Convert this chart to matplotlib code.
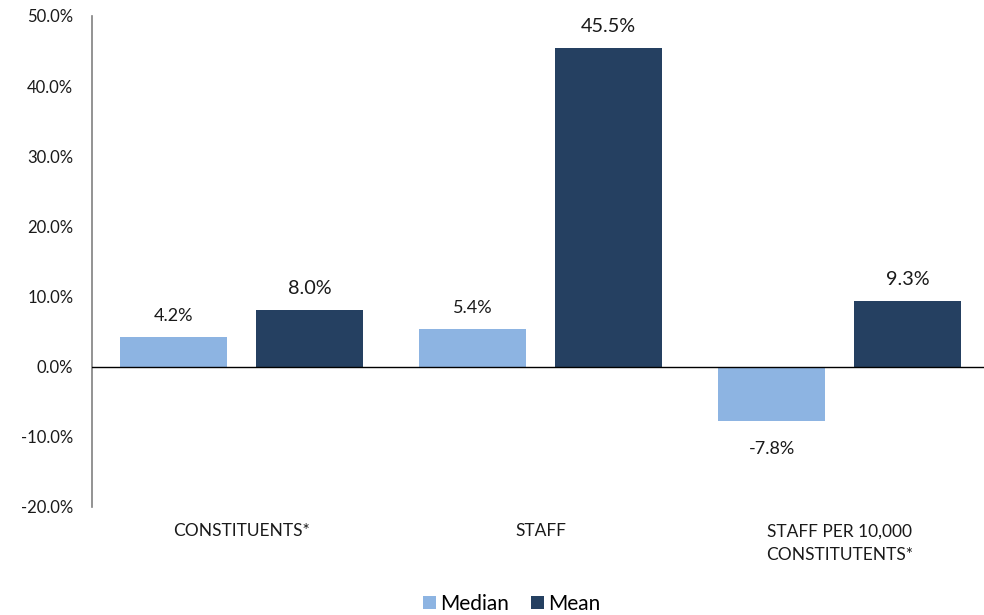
import numpy as np
import matplotlib
matplotlib.use("Agg")
import matplotlib.pyplot as plt
from matplotlib.ticker import FuncFormatter

plt.rcParams["font.family"] = ["Lato", "DejaVu Sans"]

categories = ["CONSTITUENTS*", "STAFF", "STAFF PER 10,000\nCONSTITUTENTS*"]
median = [4.2, 5.4, -7.8]
mean = [8.0, 45.5, 9.3]

C_MED = "#8DB4E2"
C_MEAN = "#254061"

fig = plt.figure(figsize=(9.84, 6.15), dpi=100)
ax = fig.add_axes([0.0935, 0.176, 0.9116, 0.798])

x = np.arange(len(categories))
w = 0.358
off = 0.227
b1 = ax.bar(x - off, median, w, color=C_MED, label="Median", zorder=2)
b2 = ax.bar(x + off, mean, w, color=C_MEAN, label="Mean", zorder=2)


def label_bars(bars, vals, size):
    for rect, v in zip(bars, vals):
        dy = 16 if v >= 0 else -33
        ax.annotate(f"{v:.1f}%", (rect.get_x() + rect.get_width() / 2, v),
                    xytext=(0, dy), textcoords="offset pixels", ha="center",
                    va="baseline", fontsize=size, color="#1a1a1a")


label_bars(b1, median, 13)
label_bars(b2, mean, 14.3)

ax.set_xlim(-0.5, 2.5)
ax.set_ylim(-20, 50)
ax.set_yticks(np.arange(-20, 51, 10))
ax.yaxis.set_major_formatter(FuncFormatter(lambda v, p: f"{v:.1f}%"))
ax.set_xticks(x)
ax.set_xticklabels(categories)
ax.tick_params(axis="y", length=0, labelsize=12, colors="#1a1a1a", pad=13.5)
ax.tick_params(axis="x", length=0, labelsize=12.5, colors="#1a1a1a", pad=12)
for lbl in ax.get_xticklabels():
    lbl.set_linespacing(1.6)

for s in ("top", "right", "bottom"):
    ax.spines[s].set_visible(False)
ax.spines["left"].set_color("#808080")
ax.spines["left"].set_linewidth(1.2)
ax.axhline(0, color="#000000", lw=1.0, zorder=3)

ax.legend(loc="center", bbox_to_anchor=((512 - 92) / 897, -0.198), ncol=2,
          frameon=False, fontsize=15, handlelength=0.62, handleheight=0.62,
          handletextpad=0.2, columnspacing=1.05, borderpad=0)

fig.savefig("out.png", dpi=100)
